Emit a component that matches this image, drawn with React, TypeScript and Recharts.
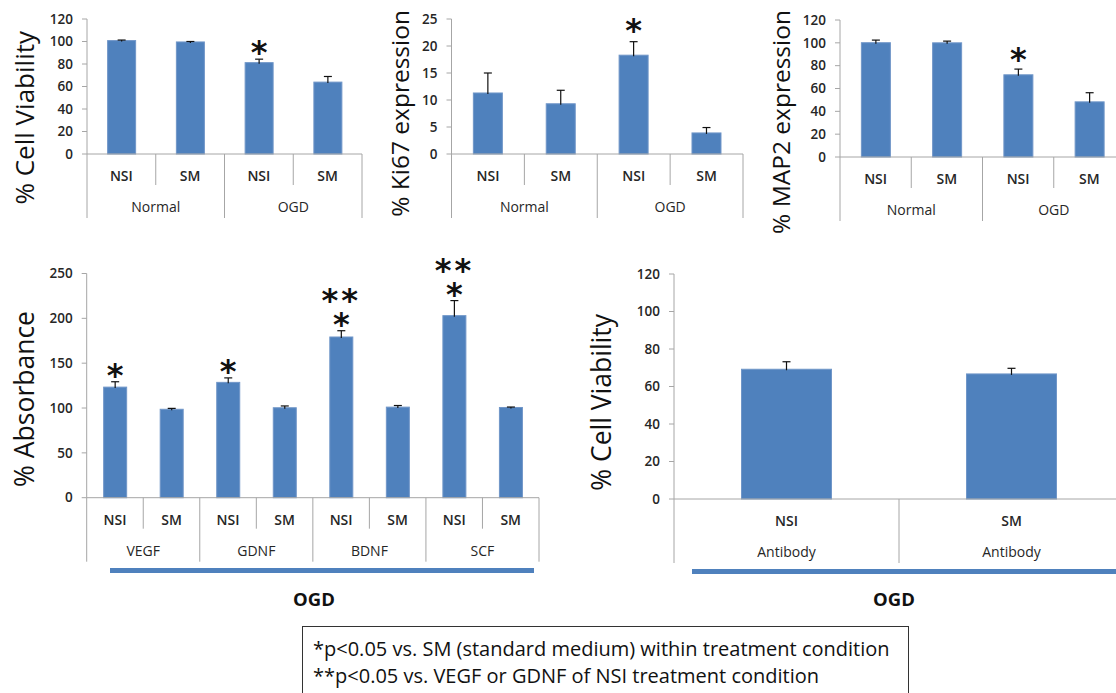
import React from 'react'
import { BarChart, Bar, XAxis, YAxis } from 'recharts'

const FONT = '"Open Sans", "Noto Sans", sans-serif'
const BAR_BLUE = '#4F81BD'
const BAR_EDGE = '#7096C8'
const AXIS_GREY = '#A6A6A6'
const INK = '#262626'
const STAR_FONT = '"DejaVu Sans", sans-serif'

// top row: Normal vs OGD, NSI vs SM
const topCats = ['NSI', 'SM', 'NSI', 'SM']
const topGroups = ['Normal', 'OGD']

const viabMean = [100.8, 99.6, 81.2, 63.9]
const viabErr = [0.5, 0.4, 3.1, 5.0]
const viabStars = ['', '', '*', '']
const viabTicks = [0, 20, 40, 60, 80, 100, 120]

const ki67Mean = [11.3, 9.3, 18.3, 3.9]
const ki67Err = [3.7, 2.5, 2.5, 1.0]
const ki67Stars = ['', '', '*', '']
const ki67Ticks = [0, 5, 10, 15, 20, 25]

const map2Mean = [100.1, 100.0, 72.0, 48.3]
const map2Err = [2.3, 1.5, 5.0, 8.0]
const map2Stars = ['', '', '*', '']
const map2Ticks = [0, 20, 40, 60, 80, 100, 120]

// bottom left: growth factor absorbance under OGD
const factorCats = ['NSI', 'SM', 'NSI', 'SM', 'NSI', 'SM', 'NSI', 'SM']
const factorGroups = ['VEGF', 'GDNF', 'BDNF', 'SCF']
const absMean = [123.3, 98.6, 128.6, 100.3, 179.2, 101.0, 203.0, 100.6]
const absErr = [6.0, 1.0, 5.0, 2.0, 7.0, 1.8, 16.8, 0.5]
const absStars = ['*', '', '*', '', '*', '', '*', '']
const absDoubleStars = ['', '', '', '', '**', '', '**', '']
const absTicks = [0, 50, 100, 150, 200, 250]

// bottom right: antibody blocking under OGD
const antibodyCats = ['NSI', 'SM']
const antibodyGroups = ['Antibody', 'Antibody']
const antibodyMean = [69.2, 66.7]
const antibodyErr = [4.0, 3.0]
const antibodyTicks = [0, 20, 40, 60, 80, 100, 120]

const footnotes = [
  '*p<0.05 vs. SM (standard medium) within treatment condition',
  '**p<0.05 vs. VEGF or GDNF of NSI treatment condition',
]

interface Row {
  key: string
  cat: string
  value: number
  err: number
  star: string
  star2: string
}

function buildRows(cats: string[], mean: number[], err: number[], stars: string[] = [], doubles: string[] = []): Row[] {
  return cats.map((cat, i) => ({
    key: String(i),
    cat,
    value: mean[i],
    err: err[i],
    star: stars[i] || '',
    star2: doubles[i] || '',
  }))
}

interface PanelProps {
  left: number
  top: number
  width: number
  height: number
  axisX: number
  plotTop: number
  zeroY: number
  plotRight: number
  rows: Row[]
  groups: string[]
  ticks: number[]
  starGap?: number
  doubleGap?: number
}

function Panel(props: PanelProps) {
  const { left, top, width, height, axisX, plotTop, zeroY, plotRight, rows, groups, ticks } = props
  const starGap = props.starGap ?? 15
  const doubleGap = props.doubleGap ?? 24
  const groupSize = rows.length / groups.length
  const axisY = zeroY - top
  const band = (plotRight - axisX) / rows.length

  const renderTick = (p: any) => {
    const i = Number(p.payload?.value)
    const row = rows[i]
    const cx = p.x
    const lx = cx - band / 2
    const groupStart = i % groupSize === 0
    const lines = [
      <line key="l" x1={lx} x2={lx} y1={axisY} y2={axisY + (groupStart ? 64 : 31)} stroke={AXIS_GREY} />,
    ]
    if (i === rows.length - 1) {
      lines.push(<line key="r" x1={lx + band} x2={lx + band} y1={axisY} y2={axisY + 64} stroke={AXIS_GREY} />)
    }
    return (
      <g>
        {lines}
        <text x={cx} y={axisY + 22} dy="0.35em" textAnchor="middle" fontSize={14} fontWeight={600} fill={INK} fontFamily={FONT}>
          {row.cat}
        </text>
        {groupStart && (
          <text x={lx + (groupSize * band) / 2} y={axisY + 53} dy="0.35em" textAnchor="middle" fontSize={14} fill={INK} fontFamily={FONT}>
            {groups[Math.floor(i / groupSize)]}
          </text>
        )}
      </g>
    )
  }

  const renderBar = (p: any) => {
    const { x, y, width: w, height: h, payload } = p
    const perUnit = h / payload.value
    const errTop = y - payload.err * perUnit
    const cx = x + w / 2
    const starY = errTop - starGap
    const fs = 32
    return (
      <g>
        <rect x={x} y={y} width={w} height={h} fill={BAR_BLUE} stroke={BAR_EDGE} strokeWidth={1} />
        <line x1={cx} x2={cx} y1={y + 1} y2={errTop} stroke="#111" strokeWidth={1.2} />
        <line x1={cx - 4} x2={cx + 4} y1={errTop} y2={errTop} stroke="#111" strokeWidth={1.2} />
        {payload.star && !payload.star2 && (
          <text x={cx} y={starY + fs * 0.58} textAnchor="middle" fontSize={fs} fontWeight="bold" fontFamily={STAR_FONT} fill="#111">
            {payload.star}
          </text>
        )}
        {payload.star && payload.star2 && (
          <text textAnchor="middle" fontSize={fs} fontWeight="bold" fontFamily={STAR_FONT} fill="#111">
            <tspan x={cx} y={starY - doubleGap + fs * 0.58} letterSpacing={3}>{payload.star2}</tspan>
            <tspan x={cx} y={starY + fs * 0.58}>{payload.star}</tspan>
          </text>
        )}
      </g>
    )
  }

  return (
    <div style={{ position: 'absolute', left, top }}>
      <BarChart
        width={width}
        height={height}
        data={rows}
        margin={{ top: plotTop - top, right: left + width - plotRight, bottom: 0, left: 0 }}
        barCategoryGap="30%"
      >
        <YAxis
          type="number"
          domain={[0, ticks[ticks.length - 1]]}
          ticks={ticks}
          interval={0}
          width={axisX - left}
          axisLine={{ stroke: AXIS_GREY }}
          tickLine={{ stroke: AXIS_GREY }}
          tickSize={5}
          tickMargin={9}
          tick={{ fill: INK, fontSize: 13.5, fontWeight: 600, fontFamily: FONT }}
        />
        <XAxis
          dataKey="key"
          height={top + height - zeroY}
          axisLine={{ stroke: AXIS_GREY }}
          tickLine={false}
          interval={0}
          tick={renderTick}
        />
        <Bar dataKey="value" isAnimationActive={false} shape={renderBar} />
      </BarChart>
    </div>
  )
}

function YLabel({ cx, cy, size, text }: { cx: number; cy: number; size: number; text: string }) {
  return (
    <div
      style={{
        position: 'absolute',
        left: cx - 25,
        top: cy - 150,
        width: 50,
        height: 300,
        display: 'flex',
        alignItems: 'center',
        justifyContent: 'center',
      }}
    >
      <span
        style={{
          writingMode: 'vertical-rl',
          transform: 'rotate(180deg)',
          fontSize: size,
          fontFamily: FONT,
          color: '#111',
          whiteSpace: 'nowrap',
          lineHeight: 1,
        }}
      >
        {text}
      </span>
    </div>
  )
}

function OgdBar({ x1, x2, y, labelX }: { x1: number; x2: number; y: number; labelX: number }) {
  return (
    <>
      <div style={{ position: 'absolute', left: x1, top: y - 2.5, width: x2 - x1, height: 5, background: BAR_BLUE }} />
      <div
        style={{
          position: 'absolute',
          left: labelX - 50,
          top: 587,
          width: 100,
          textAlign: 'center',
          fontFamily: FONT,
          fontWeight: 700,
          fontSize: 18.5,
          color: '#111',
          lineHeight: '24px',
        }}
      >
        OGD
      </div>
    </>
  )
}

export default function App() {
  return (
    <div
      style={{
        position: 'absolute',
        left: 0,
        top: 0,
        width: 1116,
        height: 693,
        overflow: 'hidden',
        background: '#fff',
        fontFamily: FONT,
      }}
    >
      <Panel left={0} top={0} width={370} height={225} axisX={87} plotTop={19} zeroY={154} plotRight={362}
        rows={buildRows(topCats, viabMean, viabErr, viabStars)} groups={topGroups} ticks={viabTicks} starGap={15} />
      <Panel left={380} top={0} width={370} height={225} axisX={451.5} plotTop={19} zeroY={154} plotRight={743}
        rows={buildRows(topCats, ki67Mean, ki67Err, ki67Stars)} groups={topGroups} ticks={ki67Ticks} starGap={19} />
      <Panel left={760} top={0} width={380} height={228} axisX={840} plotTop={20} zeroY={157} plotRight={1125}
        rows={buildRows(topCats, map2Mean, map2Err, map2Stars)} groups={topGroups} ticks={map2Ticks} starGap={18} />
      <Panel left={0} top={232} width={550} height={338} axisX={86.7} plotTop={273.5} zeroY={497.7} plotRight={539}
        rows={buildRows(factorCats, absMean, absErr, absStars, absDoubleStars)} groups={factorGroups} ticks={absTicks}
        starGap={14} doubleGap={24} />
      <Panel left={620} top={232} width={520} height={338} axisX={674} plotTop={274} zeroY={499} plotRight={1124}
        rows={buildRows(antibodyCats, antibodyMean, antibodyErr)} groups={antibodyGroups} ticks={antibodyTicks} />

      <YLabel cx={24} cy={118} size={26} text="% Cell Viability" />
      <YLabel cx={400} cy={113} size={24.5} text="% Ki67 expression" />
      <YLabel cx={781} cy={122} size={24.5} text="% MAP2 expression" />
      <YLabel cx={24} cy={399} size={26.5} text="% Absorbance" />
      <YLabel cx={601} cy={402} size={26.5} text="% Cell Viability" />

      <OgdBar x1={110} x2={534} y={570} labelX={314} />
      <OgdBar x1={692} x2={1116} y={571.5} labelX={894} />

      <div
        style={{
          position: 'absolute',
          left: 302,
          top: 626,
          width: 607,
          height: 90,
          border: '1px solid #333',
          boxSizing: 'border-box',
          padding: '8px 0 0 10px',
          fontFamily: FONT,
          fontSize: 20,
          lineHeight: '27px',
          color: '#111',
        }}
      >
        {footnotes.map((t) => (
          <div key={t} style={{ whiteSpace: 'nowrap' }}>{t}</div>
        ))}
      </div>
    </div>
  )
}
